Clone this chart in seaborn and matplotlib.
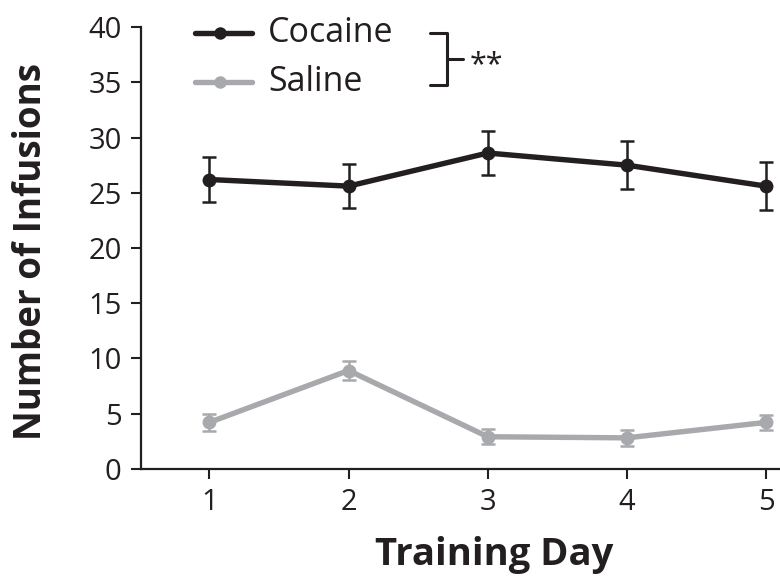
import numpy as np
import pandas as pd
import seaborn as sns
import matplotlib.pyplot as plt

# Values
days = [1, 2, 3, 4, 5]
cocaine_mean = [26.2, 25.6, 28.6, 27.5, 25.6]
cocaine_sem = [2.0, 2.0, 2.0, 2.2, 2.2]
saline_mean = [4.2, 8.9, 2.9, 2.8, 4.2]
saline_sem = [0.8, 0.9, 0.7, 0.7, 0.7]

groups = ['Cocaine', 'Saline']
colors = {'Cocaine': '#231f20', 'Saline': '#a7a9ac'}

df = pd.DataFrame({
    'day': days * 2,
    'infusions': cocaine_mean + saline_mean,
    'sem': cocaine_sem + saline_sem,
    'group': ['Cocaine'] * 5 + ['Saline'] * 5,
})

sns.set_style('ticks')
plt.rcParams['font.family'] = ['Open Sans', 'DejaVu Sans']

fig = plt.figure(figsize=(7.8, 5.78), dpi=100)
ax = fig.add_axes([0.181, 0.189, 0.819, 0.764])

# error bars first so the lines sit on top
for g in groups:
    sub = df[df['group'] == g]
    ax.errorbar(sub['day'], sub['infusions'], yerr=sub['sem'], fmt='none',
                ecolor=colors[g], elinewidth=1.8, capsize=5, capthick=1.8, zorder=2)

sns.lineplot(data=df, x='day', y='infusions', hue='group', palette=colors,
             marker='o', markersize=10, markeredgewidth=0, linewidth=3.9,
             ax=ax, zorder=3, legend=False)

ax.set_xlim(0.51, 5.1)
ax.set_ylim(0, 40)
ax.set_xticks(days)
ax.set_yticks(np.arange(0, 41, 5))
ax.tick_params(labelsize=21, width=1.5, length=7, pad=7, color='#231f20', labelcolor='#231f20')
for s in ['left', 'bottom']:
    ax.spines[s].set_linewidth(1.6)
    ax.spines[s].set_color('#231f20')
sns.despine(ax=ax)

ax.set_xlabel('Training Day', fontsize=27.5, fontweight='bold', color='#231f20')
ax.set_ylabel('Number of Infusions', fontsize=26.5, fontweight='bold', color='#231f20')
ax.xaxis.set_label_coords(0.552, -0.152)
ax.yaxis.set_label_coords(-0.143, 0.493)

# legend drawn by hand to match the original layout
for i, g in enumerate(groups):
    yf = 0.943 - i * 0.085
    fig.add_artist(plt.Line2D([0.250, 0.323], [yf, yf], color=colors[g], lw=3.9))
    fig.add_artist(plt.Line2D([0.282], [yf], color=colors[g], marker='o', markersize=9,
                              markeredgewidth=0))
    fig.text(0.344, yf, g, fontsize=24.5, va='center', ha='left', color='#231f20')

# significance bracket
bx = [0.551, 0.573, 0.573, 0.551]
by = [0.943, 0.943, 0.853, 0.853]
fig.add_artist(plt.Line2D(bx, by, color='#231f20', lw=2.2))
fig.add_artist(plt.Line2D([0.573, 0.594], [0.898, 0.898], color='#231f20', lw=2.2))
fig.text(0.602, 0.888, '**', fontsize=22, va='center', ha='left', color='#231f20')

plt.savefig('out.png', dpi=100)
